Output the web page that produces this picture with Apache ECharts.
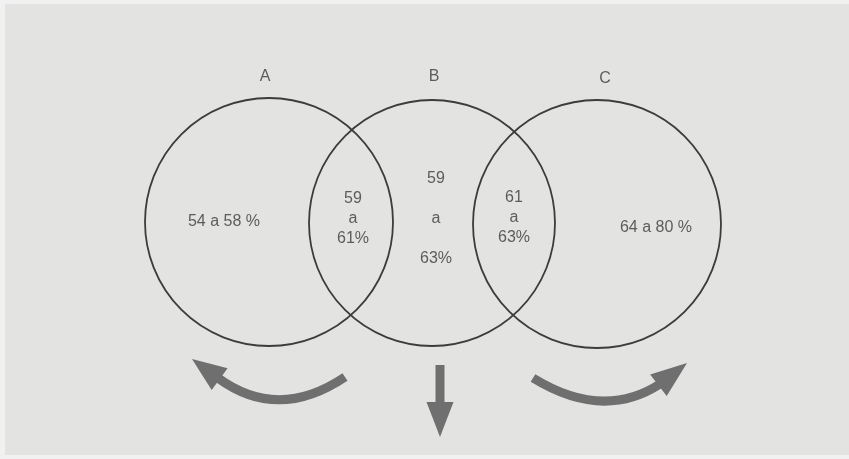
<!DOCTYPE html>
<html lang="pt">
<head>
    <meta charset="utf-8">
    <title>Diagrama A B C</title>
    <script src="https://cdn.jsdelivr.net/npm/echarts@6/dist/echarts.min.js"></script>
    <style type="text/css">
        html, body { height: 100%; margin: 0; background: #f1f1f1; }
        #main { width: 849px; height: 459px; }
    </style>
</head>
<body>
    <div id="main"></div>
    <script type="text/javascript">
        // conjuntos: nome, centro x, centro y, raio (unidades do eixo)
        var setNames = ['A', 'B', 'C'];
        var setCenterX = [269, 432, 597];
        var setCenterY = [222, 223, 224];
        var setRadius = [124, 123, 124];
        var setNameY = [77, 77, 79];

        // textos das zonas
        var zoneLabels = ['54 a 58 %', '59\na\n61%', '59\n\na\n\n63%', '61\na\n63%', '64 a 80 %'];
        var zoneX = [224, 353, 436, 514, 656];
        var zoneY = [222, 219, 219, 218, 228];

        // setas: início, controle, base da ponta, ponta
        var arrowStart = [[345, 377], [440, 365], [533, 378]];
        var arrowCtrl = [[278, 422], null, [603, 421]];
        var arrowBase = [[218, 378], [440, 404], [660, 384]];
        var arrowTip = [[192, 359], [440, 437], [687, 363]];

        var myChart = echarts.init(document.getElementById('main'));

        var circleData = setNames.map(function (n, i) {
            return [setCenterX[i], setCenterY[i], setRadius[i]];
        });
        var nameData = setNames.map(function (n, i) {
            return { value: [setCenterX[i] - 4 + i * 6, setNameY[i]], name: n };
        });
        var zoneData = zoneLabels.map(function (t, i) {
            return { value: [zoneX[i], zoneY[i]], name: t };
        });
        var arrowData = arrowStart.map(function (s, i) {
            var c = arrowCtrl[i];
            return [s[0], s[1], c ? c[0] : NaN, c ? c[1] : NaN,
                arrowBase[i][0], arrowBase[i][1], arrowTip[i][0], arrowTip[i][1]];
        });

        var arrowColor = '#6f6f6f';
        var txtFont = "'Liberation Sans Narrow', 'Liberation Sans', Arial, sans-serif";

        option = {
            backgroundColor: '#f1f1f1',
            animation: false,
            graphic: [
                {
                    type: 'rect', z: -10,
                    shape: { x: 5, y: 4, width: 844, height: 451 },
                    style: { fill: '#e3e3e2' }
                }
            ],
            grid: { left: 0, right: 0, top: 0, bottom: 0 },
            xAxis: { type: 'value', min: 0, max: 849, show: false },
            yAxis: { type: 'value', min: 0, max: 459, inverse: true, show: false },
            series: [
                {
                    // círculos
                    type: 'custom',
                    data: circleData,
                    renderItem: function (params, api) {
                        var c = api.coord([api.value(0), api.value(1)]);
                        var r = api.size([api.value(2), 0])[0];
                        return {
                            type: 'circle',
                            shape: { cx: c[0], cy: c[1], r: r },
                            style: { fill: 'none', stroke: '#3c3c3c', lineWidth: 1.8 }
                        };
                    }
                },
                {
                    // setas
                    type: 'custom',
                    data: arrowData,
                    renderItem: function (params, api) {
                        var s = api.coord([api.value(0), api.value(1)]);
                        var b = api.coord([api.value(4), api.value(5)]);
                        var t = api.coord([api.value(6), api.value(7)]);
                        var cx = api.value(2);
                        var shaft;
                        if (isNaN(cx)) {
                            shaft = {
                                type: 'line',
                                shape: { x1: s[0], y1: s[1], x2: b[0], y2: b[1] + 2 },
                                style: { stroke: arrowColor, lineWidth: 9 }
                            };
                        } else {
                            var c = api.coord([cx, api.value(3)]);
                            shaft = {
                                type: 'bezierCurve',
                                shape: { x1: s[0], y1: s[1], x2: b[0], y2: b[1], cpx1: c[0], cpy1: c[1] },
                                style: { stroke: arrowColor, lineWidth: 9, fill: 'none' }
                            };
                        }
                        var dx = t[0] - b[0], dy = t[1] - b[1];
                        var len = Math.sqrt(dx * dx + dy * dy);
                        var px = -dy / len * 13.5, py = dx / len * 13.5;
                        var bx = b[0] - dx / len * 2, by = b[1] - dy / len * 2;
                        return {
                            type: 'group',
                            children: [shaft, {
                                type: 'polygon',
                                shape: { points: [[t[0], t[1]], [bx + px, by + py], [bx - px, by - py]] },
                                style: { fill: arrowColor }
                            }]
                        };
                    }
                },
                {
                    // nomes dos conjuntos
                    type: 'scatter',
                    symbolSize: 0,
                    data: nameData,
                    label: {
                        show: true, position: 'inside', formatter: '{b}',
                        color: '#3a3a3a', fontSize: 16, fontFamily: txtFont
                    },
                    emphasis: { disabled: true }
                },
                {
                    // valores das zonas
                    type: 'scatter',
                    symbolSize: 0,
                    data: zoneData,
                    label: {
                        show: true, position: 'inside', formatter: '{b}',
                        color: '#3a3a3a', fontSize: 16, lineHeight: 20,
                        fontFamily: txtFont, align: 'center'
                    },
                    emphasis: { disabled: true }
                }
            ]
        };

        option && myChart.setOption(option);
    </script>
</body>
</html>
